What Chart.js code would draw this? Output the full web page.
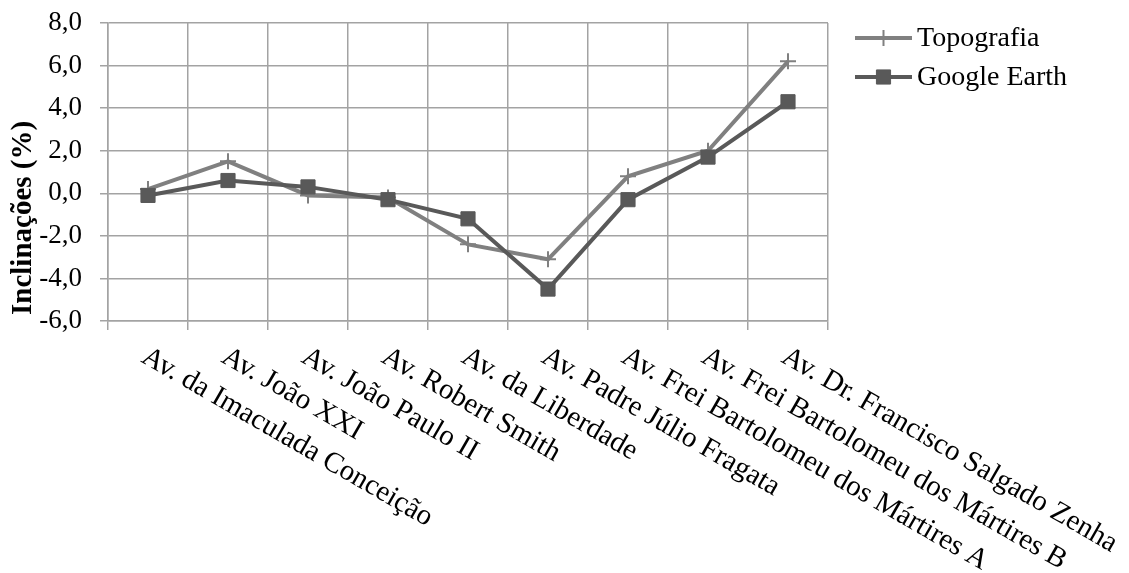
<!DOCTYPE html>
<html>
<head>
<meta charset="utf-8">
<script src="https://cdn.jsdelivr.net/npm/chart.js@4/dist/chart.umd.min.js"></script>
<style>
  html, body { margin: 0; padding: 0; background: #fff; }
  #wrap { width: 1129px; height: 573px; position: relative; }
</style>
</head>
<body>
<div id="wrap"><canvas id="c"></canvas></div>
<script>
// Avenues surveyed, in order along the route
const avenidas = [
  'Av. da Imaculada Conceição',
  'Av. João XXI',
  'Av. João Paulo II',
  'Av. Robert Smith',
  'Av. da Liberdade',
  'Av. Padre Júlio Fragata',
  'Av. Frei Bartolomeu dos Mártires A',
  'Av. Frei Bartolomeu dos Mártires B',
  'Av. Dr. Francisco Salgado Zenha'
];

// Slope (%) measured by topographic survey and read from Google Earth
const topografia = [0.2, 1.5, -0.1, -0.2, -2.4, -3.1, 0.8, 2.0, 6.2];
const googleEarth = [-0.1, 0.6, 0.3, -0.3, -1.2, -4.5, -0.3, 1.7, 4.3];

const seriesNames = ['Topografia', 'Google Earth'];
const yTitle = 'Inclinações (%)';

const SERIF = '"Liberation Serif", "Times New Roman", serif';
const GRID = '#a3a3a3';

// Rotated category labels, reading downwards from each tick,
// plus the y-axis title placed beside the lower part of the axis
const axisText = {
  id: 'axisText',
  afterDraw(chart) {
    const x = chart.scales.x;
    const ctx = chart.ctx;
    ctx.save();
    ctx.fillStyle = '#000';
    ctx.font = '29px ' + SERIF;
    ctx.textAlign = 'left';
    ctx.textBaseline = 'top';
    avenidas.forEach((label, i) => {
      const px = x.getPixelForTick(i);
      ctx.save();
      ctx.translate(px + 3, chart.chartArea.bottom + 21);
      ctx.rotate(Math.PI / 6);
      ctx.fillText(label, 0, 0);
      ctx.restore();
    });
    ctx.restore();

    ctx.save();
    ctx.fillStyle = '#000';
    ctx.font = 'bold 29px ' + SERIF;
    ctx.textAlign = 'left';
    ctx.textBaseline = 'middle';
    ctx.translate(24, chart.chartArea.bottom - 6);
    ctx.rotate(-Math.PI / 2);
    ctx.fillText(yTitle, 0, 0);
    ctx.restore();
  }
};

// Legend with a line sample and the series marker
const lineLegend = {
  id: 'lineLegend',
  afterDraw(chart) {
    const ctx = chart.ctx;
    const x0 = 855, x1 = 912, tx = 917;
    const rows = [38, 77];
    chart.data.datasets.forEach((ds, i) => {
      const y = rows[i];
      ctx.save();
      ctx.strokeStyle = ds.borderColor;
      ctx.lineWidth = ds.borderWidth;
      ctx.beginPath();
      ctx.moveTo(x0, y);
      ctx.lineTo(x1, y);
      ctx.stroke();
      ctx.fillStyle = ds.pointBackgroundColor;
      ctx.strokeStyle = ds.pointBorderColor;
      ctx.lineWidth = ds.pointBorderWidth;
      Chart.helpers.drawPoint(ctx, {
        pointStyle: ds.pointStyle,
        radius: ds.pointRadius,
        borderWidth: ds.pointBorderWidth,
        rotation: 0
      }, (x0 + x1) / 2, y);
      ctx.restore();
      ctx.save();
      ctx.fillStyle = '#000';
      ctx.font = '28px ' + SERIF;
      ctx.textAlign = 'left';
      ctx.textBaseline = 'middle';
      ctx.fillText(ds.label, tx, y + 1);
      ctx.restore();
    });
  }
};

new Chart(document.getElementById('c'), {
  type: 'line',
  data: {
    labels: avenidas,
    datasets: [
      {
        label: seriesNames[0],
        data: topografia,
        borderColor: '#808080',
        backgroundColor: '#808080',
        borderWidth: 4,
        pointStyle: 'cross',
        pointRadius: 8,
        pointBorderWidth: 2,
        pointBorderColor: '#808080',
        pointBackgroundColor: '#808080',
        order: 1
      },
      {
        label: seriesNames[1],
        data: googleEarth,
        borderColor: '#595959',
        backgroundColor: '#595959',
        borderWidth: 4,
        pointStyle: 'rect',
        pointRadius: 10,
        pointBorderWidth: 1,
        pointBorderColor: '#595959',
        pointBackgroundColor: '#595959',
        order: 0
      }
    ]
  },
  options: {
    responsive: true,
    maintainAspectRatio: false,
    animation: false,
    events: [],
    layout: { padding: { top: 23, right: 301, bottom: 0, left: 0 } },
    plugins: {
      legend: { display: false },
      tooltip: { enabled: false }
    },
    elements: { line: { tension: 0 } },
    scales: {
      x: {
        offset: true,
        grid: { offset: true, color: GRID, lineWidth: 1.5, drawTicks: true, tickLength: 9 },
        border: { color: GRID, width: 1.5 },
        ticks: { display: false },
        afterFit(scale) { scale.height = 252; }
      },
      y: {
        min: -6,
        max: 8,
        grid: { color: GRID, lineWidth: 1.5, tickLength: 8 },
        border: { color: GRID, width: 1.5 },
        ticks: {
          stepSize: 2,
          padding: 18,
          color: '#000',
          font: { family: SERIF, size: 27 },
          callback: v => v.toFixed(1).replace('.', ',')
        },
        title: { display: false },
        afterFit(scale) {
          scale.width = 108;
          scale.paddingTop = 0;
          scale.paddingBottom = 0;
        }
      }
    }
  },
  plugins: [axisText, lineLegend]
});
</script>
</body>
</html>
